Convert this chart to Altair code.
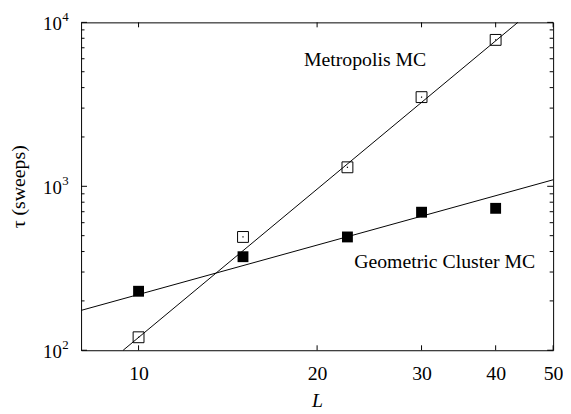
import altair as alt
import pandas as pd

# ---- data ----
L_values = [10, 15, 22.5, 30, 40]
tau_metropolis = [120, 491, 1306, 3500, 7820]
tau_cluster = [229, 372, 491, 695, 734]

# fitted lines (endpoints)
fit_metro_L = [9.42, 43.6]
fit_metro_tau = [100, 10000]
fit_cluster_L = [8, 50]
fit_cluster_tau = [175, 1096]

x_ticks = [10, 20, 30, 40, 50]
y_major = [100, 1000, 10000]
y_exponents = ["2", "3", "4"]
y_minor = [200, 300, 400, 500, 600, 700, 800, 900,
           2000, 3000, 4000, 5000, 6000, 7000, 8000, 9000]

label_metro = "Metropolis MC"
label_cluster = "Geometric Cluster MC"
label_pos_metro = (19.0, 5900)
label_pos_cluster = (23.1, 345)

W, H = 478, 332
FONT = "Liberation Serif"

xscale = alt.Scale(type="log", domain=[8, 50], nice=False)
yscale = alt.Scale(type="log", domain=[100, 10000], nice=False)

pts = pd.DataFrame({"L": L_values, "metro": tau_metropolis, "cluster": tau_cluster})

xenc = alt.X("L:Q", scale=xscale,
             axis=alt.Axis(values=x_ticks, tickSize=0, domain=False, grid=False,
                           labelFont=FONT, labelFontSize=20, labelPadding=14,
                           labelColor="black", title="L", titleFont=FONT,
                           titleFontSize=20, titleFontStyle="italic",
                           titleFontWeight="normal", titleColor="black",
                           titlePadding=7, labelFlush=False))
yaxis = alt.Axis(values=y_major, tickSize=0, domain=False, grid=False,
                 labelFont=FONT, labelFontSize=19, labelPadding=20,
                 labelColor="black", labelExpr="'10'", labelOffset=1,
                 title="τ (sweeps)", titleFont=FONT, titleFontSize=20,
                 titleFontWeight="normal", titleColor="black", titlePadding=14)

base = alt.Chart(pts)

metro_pts = base.mark_square(size=121, filled=False, stroke="black",
                             strokeWidth=1, opacity=1).encode(
    x=xenc, y=alt.Y("metro:Q", scale=yscale, axis=yaxis))
metro_dots = base.mark_square(size=1.5, filled=True, color="black",
                              opacity=1).encode(
    x=alt.X("L:Q", scale=xscale), y=alt.Y("metro:Q", scale=yscale))
cluster_pts = base.mark_square(size=121, filled=True, color="black",
                               opacity=1).encode(
    x=alt.X("L:Q", scale=xscale), y=alt.Y("cluster:Q", scale=yscale))

fm = pd.DataFrame({"L": fit_metro_L, "tau": fit_metro_tau})
fc = pd.DataFrame({"L": fit_cluster_L, "tau": fit_cluster_tau})
line_m = alt.Chart(fm).mark_line(color="black", strokeWidth=1).encode(
    x=alt.X("L:Q", scale=xscale), y=alt.Y("tau:Q", scale=yscale))
line_c = alt.Chart(fc).mark_line(color="black", strokeWidth=1).encode(
    x=alt.X("L:Q", scale=xscale), y=alt.Y("tau:Q", scale=yscale))

# inward ticks
def yrule(vals, x0, x1):
    return alt.Chart(pd.DataFrame({"v": vals})).mark_rule(
        color="black", strokeWidth=1).encode(
        y=alt.Y("v:Q", scale=yscale), x=alt.value(x0), x2=alt.value(x1))

def xrule(vals, y0, y1):
    return alt.Chart(pd.DataFrame({"v": vals})).mark_rule(
        color="black", strokeWidth=1).encode(
        x=alt.X("v:Q", scale=xscale), y=alt.value(y0), y2=alt.value(y1))

left_major = yrule(y_major, 0, 6)
left_minor = yrule(y_minor, 0, 3.5)
right_major = yrule(y_major, W - 6, W)
right_minor = yrule(y_minor, W - 3.5, W)
bottom_t = xrule(x_ticks, H - 5, H)
top_t = xrule(x_ticks, 0, 5)

# exponents of the y tick labels (10^n)
exps = alt.Chart(pd.DataFrame({"v": y_major, "e": y_exponents})).mark_text(
    align="left", baseline="middle", font=FONT, fontSize=13, color="black",
    dy=-5).encode(y=alt.Y("v:Q", scale=yscale), x=alt.value(-19), text="e:N")

labels = pd.DataFrame({
    "L": [label_pos_metro[0], label_pos_cluster[0]],
    "tau": [label_pos_metro[1], label_pos_cluster[1]],
    "text": [label_metro, label_cluster]})
txt = alt.Chart(labels).mark_text(align="left", baseline="middle", font=FONT,
                                  fontSize=20, color="black").encode(
    x=alt.X("L:Q", scale=xscale), y=alt.Y("tau:Q", scale=yscale), text="text:N")

chart = alt.layer(
    line_m, line_c, metro_pts, metro_dots, cluster_pts,
    left_major, left_minor, right_major, right_minor, bottom_t, top_t,
    exps, txt
).properties(
    width=W, height=H,
    autosize=alt.AutoSizeParams(type="none"),
    padding={"left": 74, "top": 12, "right": 10, "bottom": 62},
    background="white",
).configure_view(stroke="black", strokeWidth=1)

chart.save("out.html", embed_options={"renderer": "svg", "actions": False})
